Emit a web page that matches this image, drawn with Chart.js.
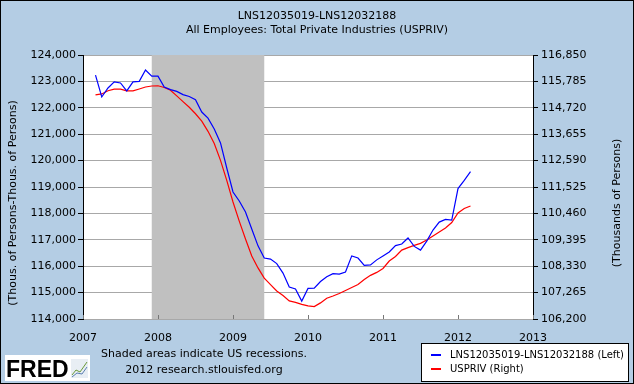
<!DOCTYPE html>
<html>
<head>
<meta charset="utf-8">
<script src="https://cdn.jsdelivr.net/npm/chart.js@4.4.1/dist/chart.umd.min.js"></script>
<style>
  html, body { margin: 0; padding: 0; background: #b4cde4; }
  #wrap { width: 634px; height: 384px; }
</style>
</head>
<body>
<div id="wrap"><canvas id="fredChart" width="634" height="384"></canvas></div>
<script>
// Monthly observations, Mar 2007 - Mar 2012
const months = [
  '2007-03','2007-04','2007-05','2007-06','2007-07','2007-08','2007-09','2007-10','2007-11','2007-12',
  '2008-01','2008-02','2008-03','2008-04','2008-05','2008-06','2008-07','2008-08','2008-09','2008-10','2008-11','2008-12',
  '2009-01','2009-02','2009-03','2009-04','2009-05','2009-06','2009-07','2009-08','2009-09','2009-10','2009-11','2009-12',
  '2010-01','2010-02','2010-03','2010-04','2010-05','2010-06','2010-07','2010-08','2010-09','2010-10','2010-11','2010-12',
  '2011-01','2011-02','2011-03','2011-04','2011-05','2011-06','2011-07','2011-08','2011-09','2011-10','2011-11','2011-12',
  '2012-01','2012-02','2012-03'
];

// LNS12035019-LNS12032188 (left axis)
const householdPrivate = [
  123240, 122410, 122750, 122980, 122940, 122640, 122980, 123000, 123430, 123200,
  123200, 122790, 122690, 122620, 122500, 122430, 122310, 121840, 121610, 121200, 120670, 119720,
  118810, 118470, 118050, 117410, 116770, 116310, 116270, 116100, 115740, 115210, 115140, 114680,
  115160, 115170, 115420, 115600, 115720, 115700, 115780, 116390, 116310, 116030, 116050, 116240,
  116390, 116540, 116780, 116840, 117070, 116750, 116610, 116950, 117370, 117670, 117770, 117750,
  118940, 119250, 119580
];

// USPRIV (right axis)
const usPriv = [
  115240, 115280, 115410, 115470, 115470, 115400, 115400, 115480, 115560, 115600,
  115610, 115540, 115430, 115200, 114970, 114740, 114480, 114180, 113770, 113280, 112600, 111790,
  110920, 110150, 109430, 108740, 108260, 107850, 107590, 107330, 107150, 106930, 106870, 106790,
  106730, 106700, 106850, 107040, 107130, 107230, 107350, 107470, 107590, 107790, 107960, 108080,
  108240, 108540, 108720, 108980, 109080, 109170, 109250, 109390, 109550, 109710, 109870, 110090,
  110480, 110660, 110760
];

const years = [2007, 2008, 2009, 2010, 2011, 2012, 2013];
const leftTicks = [114000, 115000, 116000, 117000, 118000, 119000, 120000, 121000, 122000, 123000, 124000];
const rightTicks = [106200, 107265, 108330, 109395, 110460, 111525, 112590, 113655, 114720, 115785, 116850];
const recessions = [['2007-12', '2009-06']];

const titleLines = ['LNS12035019-LNS12032188', 'All Employees: Total Private Industries (USPRIV)'];
const leftTitle = '(Thous. of Persons-Thous. of Persons)';
const rightTitle = '(Thousands of Persons)';
const legendLabels = ['LNS12035019-LNS12032188 (Left)', 'USPRIV (Right)'];
const noteLines = ['Shaded areas indicate US recessions.', '2012 research.stlouisfed.org'];

const FONT = '"DejaVu Sans", Verdana, sans-serif';

function toYear(s) {
  const [y, m] = s.split('-').map(Number);
  return y + (m - 1) / 12;
}
const fmt = v => Number(v).toLocaleString('en-US');

const fredDecor = {
  id: 'fredDecor',
  beforeDraw(chart) {
    const { ctx, chartArea: a } = chart;
    ctx.save();
    ctx.fillStyle = '#b4cde4';
    ctx.fillRect(0, 0, chart.width, chart.height);
    ctx.fillStyle = '#ffffff';
    ctx.fillRect(a.left, a.top, a.right - a.left, a.bottom - a.top);
    ctx.restore();
  },
  beforeDatasetsDraw(chart) {
    const { ctx, chartArea: a, scales } = chart;
    ctx.save();
    ctx.fillStyle = '#c0c0c0';
    recessions.forEach(([s, e]) => {
      const x0 = scales.x.getPixelForValue(toYear(s));
      const x1 = scales.x.getPixelForValue(toYear(e));
      ctx.fillRect(x0, a.top, x1 - x0, a.bottom - a.top);
    });
    // small inward ticks on the date axis
    ctx.strokeStyle = '#777';
    ctx.lineWidth = 1;
    years.forEach(y => {
      const x = Math.round(scales.x.getPixelForValue(y)) + 0.5;
      ctx.beginPath();
      ctx.moveTo(x, a.bottom - 4);
      ctx.lineTo(x, a.bottom);
      ctx.stroke();
    });
    ctx.restore();
  },
  afterDraw(chart) {
    const { ctx } = chart;
    ctx.save();
    ctx.fillStyle = '#000';
    ctx.textAlign = 'center';
    ctx.textBaseline = 'middle';
    ctx.font = '11px ' + FONT;
    ctx.fillText(titleLines[0], 317, 16);
    ctx.fillText(titleLines[1], 317, 30);

    // axis titles, both read bottom to top
    ctx.save();
    ctx.translate(13, 203);
    ctx.rotate(-Math.PI / 2);
    ctx.fillText(leftTitle, 0, 0);
    ctx.restore();
    ctx.save();
    ctx.translate(617, 203);
    ctx.rotate(-Math.PI / 2);
    ctx.fillText(rightTitle, 0, 0);
    ctx.restore();

    // notes
    ctx.fillText(noteLines[0], 204, 354);
    ctx.fillText(noteLines[1], 204, 370);

    // legend
    ctx.fillStyle = '#fff';
    ctx.fillRect(421, 343, 207, 38);
    ctx.strokeStyle = '#000';
    ctx.lineWidth = 1;
    ctx.strokeRect(421.5, 343.5, 207, 38);
    ctx.lineWidth = 2;
    ctx.strokeStyle = '#0000ff';
    ctx.beginPath(); ctx.moveTo(431, 355); ctx.lineTo(441, 355); ctx.stroke();
    ctx.strokeStyle = '#ff0000';
    ctx.beginPath(); ctx.moveTo(431, 369); ctx.lineTo(441, 369); ctx.stroke();
    ctx.fillStyle = '#000';
    ctx.textAlign = 'left';
    ctx.font = '10px ' + FONT;
    ctx.fillText(legendLabels[0], 450, 355);
    ctx.fillText(legendLabels[1], 450, 369);

    // FRED logo
    ctx.fillStyle = '#fff';
    ctx.fillRect(5, 355, 85, 26);
    ctx.fillStyle = '#000';
    ctx.font = 'bold 23px "Liberation Sans", Arial, sans-serif';
    ctx.textBaseline = 'alphabetic';
    ctx.fillText('FRED', 6, 377);
    ctx.fillStyle = '#e8eef4';
    ctx.fillRect(71, 359, 17, 19);
    ctx.lineWidth = 1;
    ctx.strokeStyle = '#6a9a3a';
    ctx.beginPath(); ctx.moveTo(72, 375); ctx.lineTo(76, 370); ctx.lineTo(80, 372); ctx.lineTo(87, 362); ctx.stroke();
    ctx.strokeStyle = '#5a7fb0';
    ctx.beginPath(); ctx.moveTo(72, 377); ctx.lineTo(77, 373); ctx.lineTo(82, 374); ctx.lineTo(87, 367); ctx.stroke();

    // outer frame
    ctx.strokeStyle = '#000';
    ctx.lineWidth = 1;
    ctx.strokeRect(0.5, 0.5, chart.width - 1, chart.height - 1);
    ctx.restore();
  }
};

const ctx = document.getElementById('fredChart').getContext('2d');
new Chart(ctx, {
  type: 'line',
  data: {
    datasets: [
      {
        label: legendLabels[0],
        data: months.map((m, i) => ({ x: toYear(m), y: householdPrivate[i] })),
        yAxisID: 'yL',
        borderColor: '#0000ff',
        borderWidth: 1.2,
        pointRadius: 0,
        tension: 0
      },
      {
        label: legendLabels[1],
        data: months.map((m, i) => ({ x: toYear(m), y: usPriv[i] })),
        yAxisID: 'yR',
        borderColor: '#ff0000',
        borderWidth: 1.2,
        pointRadius: 0,
        tension: 0
      }
    ]
  },
  options: {
    responsive: false,
    animation: false,
    layout: { padding: { top: 55, left: 0, right: 0, bottom: 0 } },
    plugins: {
      legend: { display: false },
      tooltip: { enabled: false }
    },
    scales: {
      x: {
        type: 'linear',
        min: years[0],
        max: years[years.length - 1],
        afterFit: s => { s.height = 65; },
        afterBuildTicks: s => { s.ticks = years.map(v => ({ value: v })); },
        ticks: {
          callback: v => String(v),
          color: '#000',
          font: { family: FONT, size: 11 },
          padding: 5,
          maxRotation: 0
        },
        grid: { display: false },
        border: { display: false }
      },
      yL: {
        position: 'left',
        min: leftTicks[0],
        max: leftTicks[leftTicks.length - 1],
        afterFit: s => { s.width = 83; },
        afterBuildTicks: s => { s.ticks = leftTicks.map(v => ({ value: v })); },
        ticks: {
          callback: v => fmt(v),
          color: '#000',
          font: { family: FONT, size: 11 },
          padding: 2
        },
        grid: { color: '#a8a8a8', tickColor: '#000', tickLength: 5, lineWidth: 1 },
        border: { color: '#000', width: 1 }
      },
      yR: {
        position: 'right',
        min: rightTicks[0],
        max: rightTicks[rightTicks.length - 1],
        afterFit: s => { s.width = 101; },
        afterBuildTicks: s => { s.ticks = rightTicks.map(v => ({ value: v })); },
        ticks: {
          callback: v => fmt(v),
          color: '#000',
          font: { family: FONT, size: 11 },
          padding: 3
        },
        grid: { drawOnChartArea: false, tickColor: '#000', tickLength: 5 },
        border: { color: '#000', width: 1 }
      }
    }
  },
  plugins: [fredDecor]
});
</script>
</body>
</html>
